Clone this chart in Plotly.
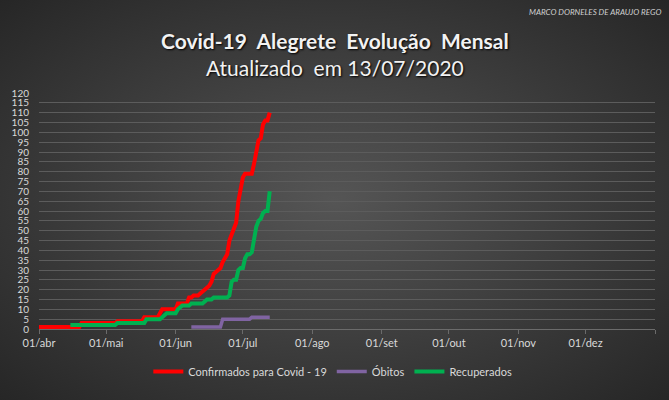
import base64
import pandas as pd
import plotly.graph_objects as go

# ---- data (daily values) ----
confirmados_start = "2020-04-01"
confirmados = ([1] * 19 + [3] * 16 + [4] * 12 + [6] * 7 + [8] + [10] * 7 + [13] * 5 +
               [16, 16, 17, 17, 17, 18, 19, 20, 21, 22, 24, 28, 29, 30, 31, 34, 36, 38,
                45, 48, 50, 54, 65, 72, 77, 79, 79, 79, 79, 84, 90, 96, 97, 104, 106, 106, 110])

recuperados_start = "2020-04-15"
recuperados = ([2] * 21 + [3] * 13 + [5] * 7 + [6, 7] + [8] * 5 + [10, 11] + [12] * 4 +
               [13] * 6 + [14, 15, 15, 15] + [16] * 7 +
               [17, 24, 25, 25, 30, 31, 31, 36, 38, 38, 39, 45, 52, 55, 56, 59, 60, 60, 70])

obitos_start = "2020-06-08"
obitos = [1] * 14 + [5] * 13 + [6] * 9

month_ticks = ["2020-04-01", "2020-05-01", "2020-06-01", "2020-07-01", "2020-08-01",
               "2020-09-01", "2020-10-01", "2020-11-01", "2020-12-01", "2021-01-01"]
month_labels = ["01/abr", "01/mai", "01/jun", "01/jul", "01/ago",
                "01/set", "01/out", "01/nov", "01/dez", ""]
y_ticks = list(range(0, 125, 5))

series = [
    ("Confirmados para Covid - 19", confirmados_start, confirmados, "#FF0000", 4),
    ("Óbitos", obitos_start, obitos, "#8064A2", 3.5),
    ("Recuperados", recuperados_start, recuperados, "#00B050", 4),
]

W, H = 669, 400
ML, MR, MT, MB = 39, 14, 93, 71
PW, PH = W - ML - MR, H - MT - MB

fig = go.Figure()
for name, start, vals, color, width in series:
    dates = pd.date_range(start, periods=len(vals), freq="D")
    fig.add_trace(go.Scatter(x=dates, y=vals, mode="lines", name=name,
                             line=dict(color=color, width=width)))

svg = (f"<svg xmlns='http://www.w3.org/2000/svg' width='{W}' height='{H}' preserveAspectRatio='none'>"
       "<defs><radialGradient id='g' cx='50%' cy='50%' r='71%'>"
       "<stop offset='0' stop-color='#555555'/><stop offset='1' stop-color='#262626'/>"
       "</radialGradient></defs>"
       f"<rect width='{W}' height='{H}' fill='url(#g)'/></svg>")
src = "data:image/svg+xml;base64," + base64.b64encode(svg.encode()).decode()

font = "Lato, 'Open Sans', sans-serif"
fig.update_layout(
    width=W, height=H,
    margin=dict(l=ML, r=MR, t=MT, b=MB),
    paper_bgcolor="#3a3a3a",
    plot_bgcolor="rgba(0,0,0,0)",
    font=dict(family=font, color="#d9d9d9", size=11),
    images=[dict(source=src, xref="paper", yref="paper",
                 x=-ML / PW, y=1 + MT / PH, sizex=W / PW, sizey=H / PH,
                 sizing="stretch", layer="below", xanchor="left", yanchor="top")],
    xaxis=dict(type="date", range=["2020-04-01", "2021-01-01"],
               tickvals=month_ticks, ticktext=month_labels,
               showgrid=False, zeroline=False,
               showline=True, linecolor="#6b6b6b", linewidth=1,
               ticks="outside", ticklen=4, tickcolor="#6b6b6b",
               tickfont=dict(size=11, color="#d9d9d9")),
    yaxis=dict(range=[0, 120], tickvals=y_ticks, showgrid=True,
               gridcolor="#5c5c5c", gridwidth=1, zeroline=False,
               showline=False, ticks="", ticklabelstandoff=9,
               tickfont=dict(size=10, color="#d9d9d9")),
    legend=dict(orientation="h", x=0.477, xanchor="center", y=-0.18, yanchor="middle",
                font=dict(size=11, color="#d9d9d9"), bgcolor="rgba(0,0,0,0)",
                itemwidth=30),
    showlegend=True,
    annotations=[
        dict(text="<b>Covid-19  Alegrete  Evolução  Mensal</b>", xref="paper", yref="paper",
             x=(335 - ML) / PW, y=1 + (MT - 41) / PH, xanchor="center", yanchor="middle",
             showarrow=False,
             font=dict(size=21, color="#f2f2f2", family=font, shadow="1px 1px 2px #000")),
        dict(text="Atualizado  em 13/07/2020", xref="paper", yref="paper",
             x=(335 - ML) / PW, y=1 + (MT - 67) / PH, xanchor="center", yanchor="middle",
             showarrow=False,
             font=dict(size=21, color="#f2f2f2", family=font, shadow="1px 1px 2px #000")),
        dict(text="<i>MARCO DORNELES DE ARAUJO REGO</i>", xref="paper", yref="paper",
             x=(663 - ML) / PW, y=1 + (MT - 12) / PH, xanchor="right", yanchor="middle",
             showarrow=False, font=dict(size=8, color="#d0d0d0", family=font)),
    ],
)

fig.write_html("out.html", config={"displayModeBar": False},
               post_script="document.body.style.margin='0';")
